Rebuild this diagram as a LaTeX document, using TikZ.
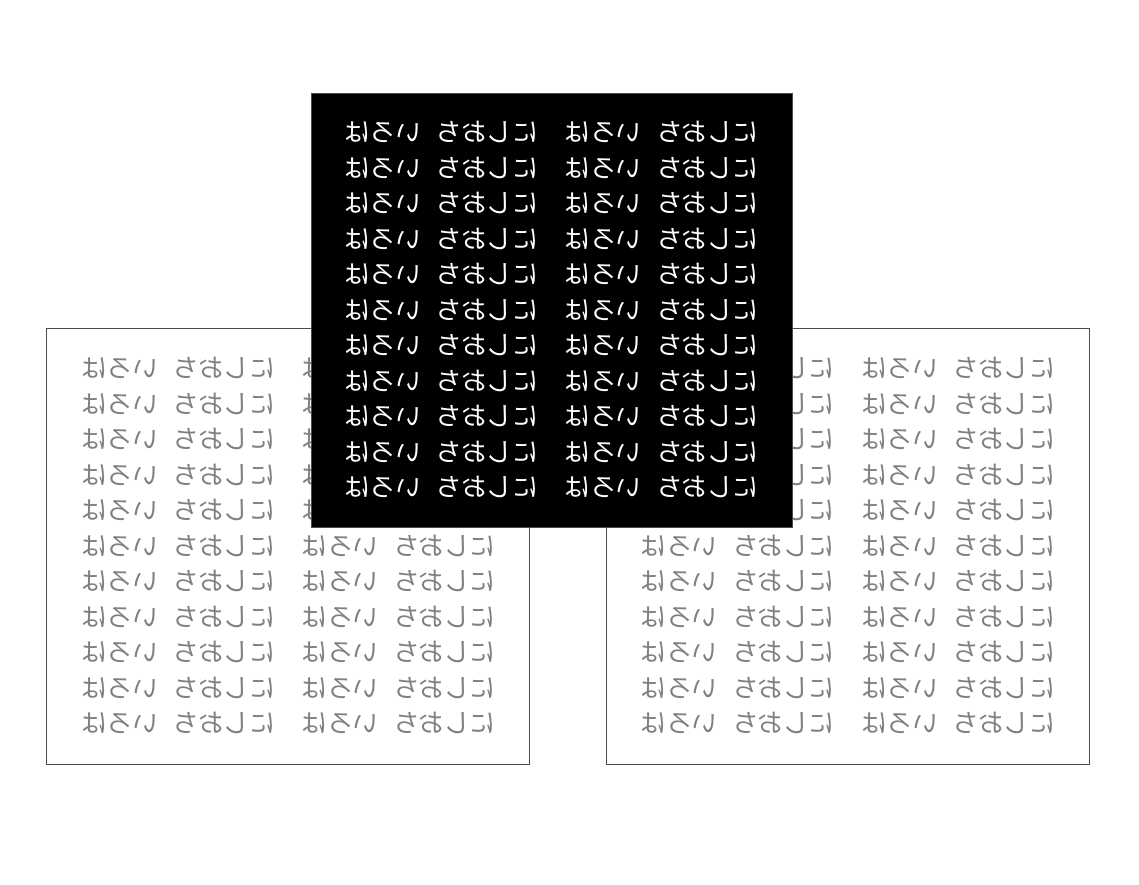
\documentclass[tikz,border=0pt]{standalone}
\usepackage{fontspec}
\usepackage{graphicx}
\usepackage{xcolor}
\newfontfamily\jpfont{Noto Sans CJK JP}

% one mirrored line of kana, two phrases
\newcommand{\kanarow}{\reflectbox{にしおち\hspace{15pt}いろは\hspace{27pt}にしおち\hspace{15pt}いろは}}

\begin{document}
\begin{tikzpicture}[x=1pt,y=-1pt,
  sheet/.style={draw=black!70,line width=0.8pt,fill=white,minimum width=483pt,minimum height=436pt,inner sep=0pt},
  darksheet/.style={sheet,fill=black,minimum width=481pt,minimum height=434pt},
  graytext/.style={text=black!50,inner sep=0pt,font=\jpfont\fontsize{25.5pt}{25.5pt}\selectfont},
  whitetext/.style={graytext,text=white}]
\useasboundingbox (0,0) rectangle (1139,884);
% the two sheets at the back
\node[sheet] (leftsheet) at (287.5,546) {};
\foreach \k in {0,...,10}
  \node[graytext] (left-\k) at ({288.5},{368.5+35.5*\k}) {\kanarow};
\node[sheet] (rightsheet) at (847.5,546) {};
\foreach \k in {0,...,10}
  \node[graytext] (right-\k) at ({848},{368.5+35.5*\k}) {\kanarow};
% the black sheet in front
\node[darksheet] (topsheet) at (551.5,310) {};
\foreach \k in {0,...,10}
  \node[whitetext] (top-\k) at ({551.5},{132.5+35.5*\k}) {\kanarow};
\end{tikzpicture}
\end{document}
